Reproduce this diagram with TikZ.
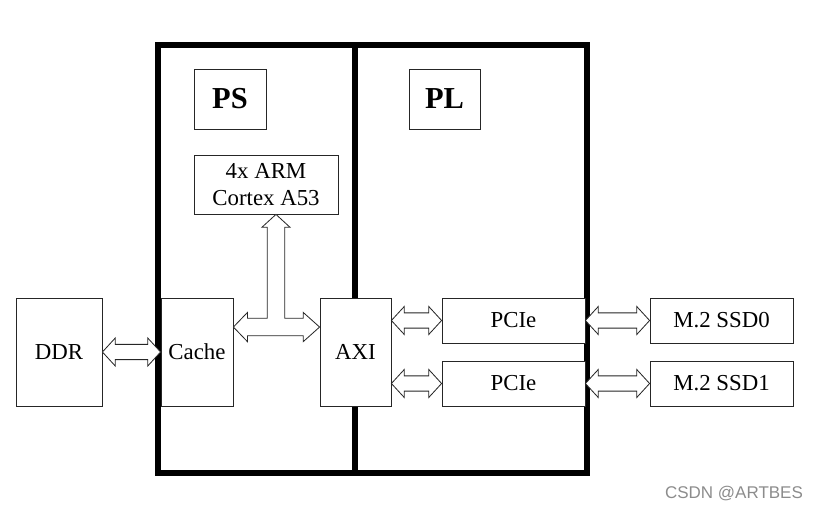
\documentclass[tikz,border=0pt]{standalone}
\usepackage{fontspec}
\setmainfont{Liberation Serif}
\newfontfamily\wmfont{Liberation Sans}
\usetikzlibrary{calc}

\tikzset{
  blk/.style={draw=black!85, line width=0.7pt, fill=white, inner sep=0pt, font=\fontsize{19.5}{23}\selectfont},
  frame/.style={line width=4.4pt, line join=miter},
  hollow/.style={draw=black!85, line width=0.7pt, fill=white, line join=miter}
}
% hollow double arrow between two anchors at the same height
\newcommand{\dblarrow}[2]{%
  \draw[hollow] let \p1=(#1), \p2=(#2) in
    (\x1,\y1) -- (\x1+11pt,\y1+12pt) -- (\x1+11pt,\y1+6.5pt) -- (\x2-11pt,\y1+6.5pt)
    -- (\x2-11pt,\y1+12pt) -- (\x2,\y1) -- (\x2-11pt,\y1-12pt) -- (\x2-11pt,\y1-6.5pt)
    -- (\x1+11pt,\y1-6.5pt) -- (\x1+11pt,\y1-12pt) -- cycle;}

\begin{document}
\begin{tikzpicture}[x=0.03cm, y=-0.03cm]
  \useasboundingbox (0,0) rectangle (819,511);

  \draw[frame] (158,45) rectangle (587,473);
  \draw[frame] (355,45) -- (355,473);

  \node[blk, minimum width=2.16cm, minimum height=1.8cm, font=\fontsize{26}{30}\selectfont\bfseries] (ps) at (230,99) {PS};
  \node[blk, minimum width=2.13cm, minimum height=1.8cm, font=\fontsize{26}{30}\selectfont\bfseries] (pl) at (444.5,99) {PL};
  \node[blk, minimum width=4.32cm, minimum height=1.77cm, align=center] (arm) at (266,184.5) {4x ARM\\Cortex A53};
  \node[blk, minimum width=2.58cm, minimum height=3.24cm] (ddr) at (59,352) {DDR};
  \node[blk, minimum width=2.16cm, minimum height=3.24cm] (cache) at (197,352) {Cache};
  \node[blk, minimum width=2.13cm, minimum height=3.24cm] (axi) at (355.5,352) {AXI};
  \node[blk, minimum width=4.29cm, minimum height=1.35cm] (pcie1) at (513.5,320.5) {PCIe};
  \node[blk, minimum width=4.29cm, minimum height=1.35cm] (pcie2) at (513.5,383.5) {PCIe};
  \node[blk, minimum width=4.29cm, minimum height=1.35cm] (ssd0) at (721.5,320.5) {M.2 SSD0};
  \node[blk, minimum width=4.29cm, minimum height=1.35cm] (ssd1) at (721.5,383.5) {M.2 SSD1};

  \dblarrow{ddr.east}{cache.west}
  \dblarrow{axi.east |- pcie1.west}{pcie1.west}
  \dblarrow{axi.east |- pcie2.west}{pcie2.west}
  \dblarrow{pcie1.east}{ssd0.west}
  \dblarrow{pcie2.east}{ssd1.west}

  % T shaped arrow cache - axi - arm
  \draw[hollow] let \p1=(cache.east), \p2=(axi.west), \p3=(arm.south),
      \n1={\y1+21.3pt}, \n2={\x3+8.5pt} in
    (\x1,\n1) -- (\x1+12pt,\n1+12.5pt) -- (\x1+12pt,\n1+7.5pt) -- (\n2-7.5pt,\n1+7.5pt)
    -- (\n2-7.5pt,\y3-11pt) -- (\n2-12pt,\y3-11pt) -- (\n2,\y3) -- (\n2+12pt,\y3-11pt)
    -- (\n2+7.5pt,\y3-11pt) -- (\n2+7.5pt,\n1+7.5pt) -- (\x2-14pt,\n1+7.5pt)
    -- (\x2-14pt,\n1+12.5pt) -- (\x2,\n1) -- (\x2-14pt,\n1-12.5pt) -- (\x2-14pt,\n1-7.5pt)
    -- (\x1+12pt,\n1-7.5pt) -- (\x1+12pt,\n1-12.5pt) -- cycle;

  \node[text=black!45, font=\wmfont\fontsize{14.5}{17}\selectfont] (wm) at (734,494) {CSDN @ARTBES};
\end{tikzpicture}
\end{document}
